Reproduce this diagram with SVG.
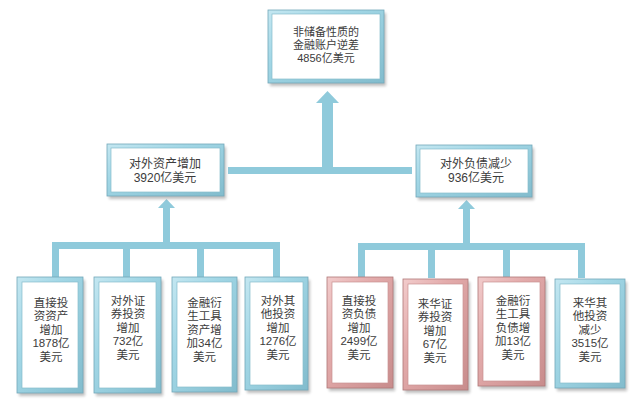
<svg xmlns="http://www.w3.org/2000/svg" width="635" height="411" viewBox="0 0 635 411">
<defs>
<linearGradient id="gb" x1="0" y1="0" x2="1" y2="1">
<stop offset="0" stop-color="#c4e7f1"/>
<stop offset="0.35" stop-color="#a2d7e6"/>
<stop offset="1" stop-color="#82bccd"/>
</linearGradient>
<linearGradient id="gp" x1="0" y1="0" x2="1" y2="1">
<stop offset="0" stop-color="#f2cccc"/>
<stop offset="0.35" stop-color="#e3abab"/>
<stop offset="1" stop-color="#c88c8c"/>
</linearGradient>
<filter id="blur" x="-20%" y="-20%" width="140%" height="140%">
<feGaussianBlur stdDeviation="1.5"/>
</filter>
</defs>
<style>
.sh{fill:#8a8a8a;opacity:0.55;filter:url(#blur)}
.fb{fill:url(#gb);stroke:#73a8ba;stroke-width:0.8}
.fp{fill:url(#gp);stroke:#b07878;stroke-width:0.8}
.inb{fill:#ffffff;stroke:#86bccc;stroke-width:0.7}
.inp{fill:#ffffff;stroke:#c99292;stroke-width:0.7}
.t{font-family:"Liberation Sans","Noto Sans CJK SC",sans-serif;font-size:11.5px;fill:#3c3c3c;text-anchor:middle}
.tm{font-size:12px}
.ts{font-size:11px}
.c{fill:#8fcadb}
</style>
<rect width="635" height="411" fill="#ffffff"/>

<g id="connectors">
<rect class="c" x="228" y="167" width="184" height="7"/>
<rect class="c" x="322" y="102" width="11" height="70"/>
<polygon class="c" points="316,103 327.5,91 339,103"/>
<rect class="c" x="52" y="242" width="228" height="7"/>
<rect class="c" x="52" y="242" width="7" height="35"/>
<rect class="c" x="123" y="242" width="7" height="35"/>
<rect class="c" x="197" y="242" width="7" height="35"/>
<rect class="c" x="273" y="242" width="7" height="35"/>
<rect class="c" x="163" y="207" width="7" height="38"/>
<polygon class="c" points="158,208 166.5,199 175,208"/>
<rect class="c" x="358" y="243" width="227" height="7"/>
<rect class="c" x="358" y="243" width="7" height="35"/>
<rect class="c" x="428" y="243" width="7" height="35"/>
<rect class="c" x="503" y="243" width="7" height="35"/>
<rect class="c" x="578" y="243" width="7" height="35"/>
<rect class="c" x="463" y="208" width="7" height="38"/>
<polygon class="c" points="458,209 466.5,200 475,209"/>
</g>

<g id="top">
<rect class="sh" x="270" y="13" width="116" height="73"/>
<rect class="fb" x="268" y="10" width="116" height="73"/>
<rect class="inb" x="272" y="14" width="108" height="65"/>
<text class="t ts"><tspan x="326" y="36">非储备性质的</tspan><tspan x="326" y="49">金融账户逆差</tspan><tspan x="326" y="62">4856亿美元</tspan></text>
</g>

<g id="midL">
<rect class="sh" x="109" y="147" width="117" height="52"/>
<rect class="fb" x="107" y="144" width="117" height="52"/>
<rect class="inb" x="111" y="148" width="109" height="44"/>
<text class="t tm"><tspan x="165" y="167.5">对外资产增加</tspan><tspan x="165" y="181.5">3920亿美元</tspan></text>
</g>

<g id="midR">
<rect class="sh" x="418" y="148" width="116" height="52"/>
<rect class="fb" x="416" y="145" width="116" height="52"/>
<rect class="inb" x="420" y="149" width="108" height="44"/>
<text class="t tm"><tspan x="476" y="167.5">对外负债减少</tspan><tspan x="476" y="181.5">936亿美元</tspan></text>
</g>

<g id="b1">
<rect class="sh" x="19" y="280" width="66" height="116"/>
<rect class="fb" x="17" y="277" width="66" height="116"/>
<rect class="inb" x="22" y="282" width="56" height="106"/>
<text class="t"><tspan x="51" y="306.5">直接投</tspan><tspan x="51" y="320">资资产</tspan><tspan x="51" y="333.5">增加</tspan><tspan x="51" y="347">1878亿</tspan><tspan x="51" y="360.5">美元</tspan></text>
</g>

<g id="b2">
<rect class="sh" x="96" y="280" width="67" height="116"/>
<rect class="fb" x="94" y="277" width="67" height="116"/>
<rect class="inb" x="99" y="282" width="57" height="106"/>
<text class="t"><tspan x="128" y="304.5">对外证</tspan><tspan x="128" y="318">券投资</tspan><tspan x="128" y="331.5">增加</tspan><tspan x="128" y="345">732亿</tspan><tspan x="128" y="358.5">美元</tspan></text>
</g>

<g id="b3">
<rect class="sh" x="174" y="280" width="65" height="115"/>
<rect class="fb" x="172" y="277" width="65" height="115"/>
<rect class="inb" x="177" y="282" width="55" height="105"/>
<text class="t"><tspan x="204.5" y="306.5">金融衍</tspan><tspan x="204.5" y="320">生工具</tspan><tspan x="204.5" y="333.5">资产增</tspan><tspan x="204.5" y="347">加34亿</tspan><tspan x="204.5" y="360.5">美元</tspan></text>
</g>

<g id="b4">
<rect class="sh" x="247" y="280" width="63" height="113"/>
<rect class="fb" x="245" y="277" width="63" height="113"/>
<rect class="inb" x="250" y="282" width="53" height="103"/>
<text class="t"><tspan x="278" y="304.5">对外其</tspan><tspan x="278" y="318">他投资</tspan><tspan x="278" y="331.5">增加</tspan><tspan x="278" y="345">1276亿</tspan><tspan x="278" y="358.5">美元</tspan></text>
</g>

<g id="b5">
<rect class="sh" x="329" y="280" width="66" height="111"/>
<rect class="fp" x="327" y="277" width="66" height="111"/>
<rect class="inp" x="332" y="282" width="56" height="101"/>
<text class="t"><tspan x="359" y="304.5">直接投</tspan><tspan x="359" y="318">资负债</tspan><tspan x="359" y="331.5">增加</tspan><tspan x="359" y="345">2499亿</tspan><tspan x="359" y="358.5">美元</tspan></text>
</g>

<g id="b6">
<rect class="sh" x="405" y="282" width="65" height="111"/>
<rect class="fp" x="403" y="279" width="65" height="111"/>
<rect class="inp" x="408" y="284" width="55" height="101"/>
<text class="t"><tspan x="435" y="307.5">来华证</tspan><tspan x="435" y="321">券投资</tspan><tspan x="435" y="334.5">增加</tspan><tspan x="435" y="348">67亿</tspan><tspan x="435" y="361.5">美元</tspan></text>
</g>

<g id="b7">
<rect class="sh" x="480" y="280" width="67" height="109"/>
<rect class="fp" x="478" y="277" width="67" height="109"/>
<rect class="inp" x="483" y="282" width="57" height="99"/>
<text class="t"><tspan x="513" y="304.5">金融衍</tspan><tspan x="513" y="318">生工具</tspan><tspan x="513" y="331.5">负债增</tspan><tspan x="513" y="345">加13亿</tspan><tspan x="513" y="358.5">美元</tspan></text>
</g>

<g id="b8">
<rect class="sh" x="557" y="282" width="70" height="109"/>
<rect class="fb" x="555" y="279" width="70" height="109"/>
<rect class="inb" x="560" y="284" width="60" height="99"/>
<text class="t"><tspan x="590" y="306.5">来华其</tspan><tspan x="590" y="320">他投资</tspan><tspan x="590" y="333.5">减少</tspan><tspan x="590" y="347">3515亿</tspan><tspan x="590" y="360.5">美元</tspan></text>
</g>
</svg>
